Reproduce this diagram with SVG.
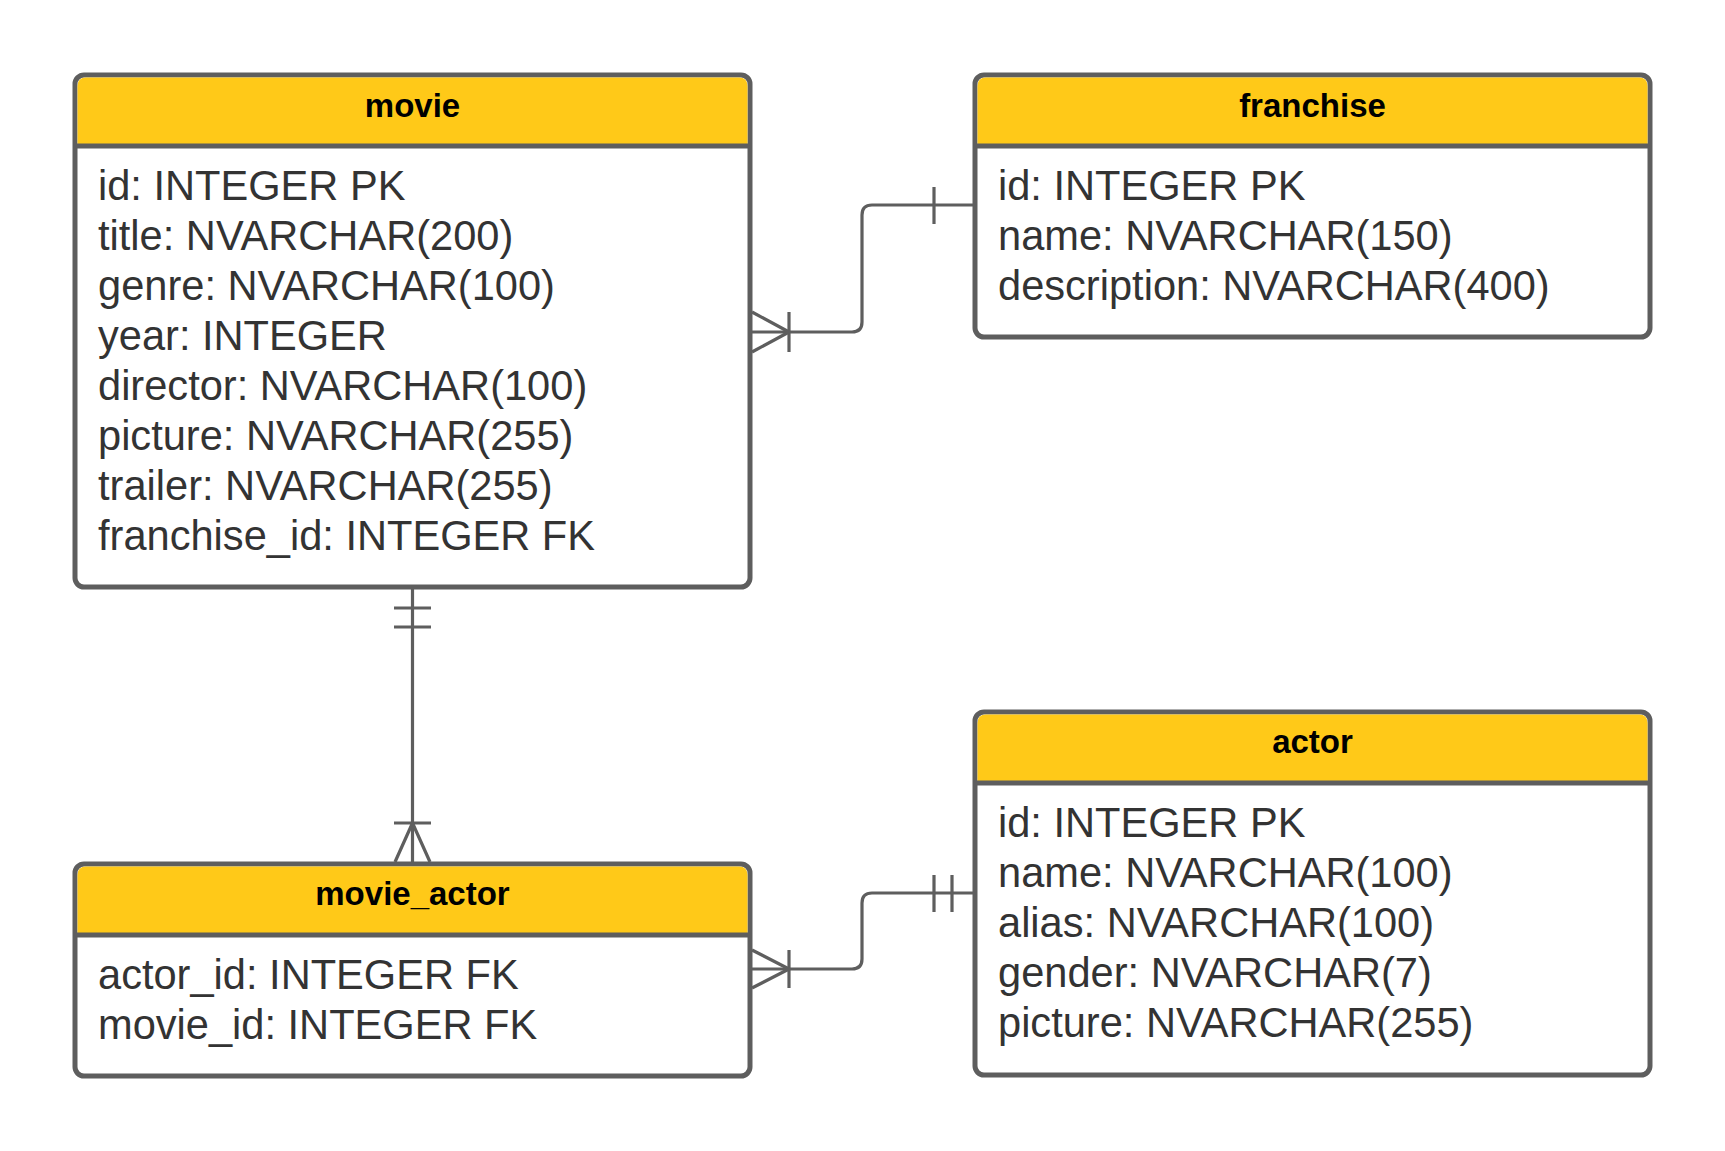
<svg xmlns="http://www.w3.org/2000/svg" width="1725" height="1151" viewBox="0 0 1725 1151">
<style>
.box{fill:#ffffff;stroke:#5e5e5e;stroke-width:5}
.hdr{fill:#ffc918}
.sep{stroke:#5e5e5e;stroke-width:5}
.title{font-family:"Liberation Sans",Arial,sans-serif;font-weight:bold;font-size:33px;fill:#000000;text-anchor:middle}
.row{font-family:"Liberation Sans",Arial,sans-serif;font-size:41.6px;fill:#333333}
.conn{fill:none;stroke:#5e5e5e;stroke-width:3.2;stroke-linecap:butt;stroke-linejoin:round}
</style>
<rect width="1725" height="1151" fill="#ffffff"/>
<g id="connectors" class="conn">
  <path d="M752 332 H852 Q862 332 862 322 V215 Q862 205 872 205 H973"/>
  <path d="M752 312 L789 332 L752 352"/>
  <path d="M789 312 V352"/>
  <path d="M934 187 V224"/>
  <path d="M412.5 589 V862"/>
  <path d="M394 608 H431 M394 627 H431"/>
  <path d="M394 823 H431"/>
  <path d="M395 862 L412.5 823 L430 862"/>
  <path d="M752 969 H852 Q862 969 862 959 V903 Q862 893 872 893 H973"/>
  <path d="M752 950 L789 969 L752 988"/>
  <path d="M789 950 V988"/>
  <path d="M934 875 V912 M952 875 V912"/>
</g>
<g id="movie">
  <rect class="box" x="75" y="75" width="675" height="512" rx="9"/>
  <path class="hdr" d="M77.5 146 V86 Q77.5 77.5 86 77.5 H739 Q747.5 77.5 747.5 86 V146 Z"/>
  <line class="sep" x1="75" y1="146" x2="750" y2="146"/>
  <text class="title" x="412.5" y="117">movie</text>
  <text class="row" x="98" y="200">id: INTEGER PK</text>
  <text class="row" x="98" y="250">title: NVARCHAR(200)</text>
  <text class="row" x="98" y="300">genre: NVARCHAR(100)</text>
  <text class="row" x="98" y="350">year: INTEGER</text>
  <text class="row" x="98" y="400">director: NVARCHAR(100)</text>
  <text class="row" x="98" y="450">picture: NVARCHAR(255)</text>
  <text class="row" x="98" y="500">trailer: NVARCHAR(255)</text>
  <text class="row" x="98" y="550">franchise_id: INTEGER FK</text>
</g>
<g id="franchise">
  <rect class="box" x="975" y="75" width="675" height="262" rx="9"/>
  <path class="hdr" d="M977.5 146 V86 Q977.5 77.5 986 77.5 H1639 Q1647.5 77.5 1647.5 86 V146 Z"/>
  <line class="sep" x1="975" y1="146" x2="1650" y2="146"/>
  <text class="title" x="1312.5" y="117">franchise</text>
  <text class="row" x="998" y="200">id: INTEGER PK</text>
  <text class="row" x="998" y="250">name: NVARCHAR(150)</text>
  <text class="row" x="998" y="300">description: NVARCHAR(400)</text>
</g>
<g id="movie_actor">
  <rect class="box" x="75" y="864" width="675" height="212" rx="9"/>
  <path class="hdr" d="M77.5 935 V875 Q77.5 866.5 86 866.5 H739 Q747.5 866.5 747.5 875 V935 Z"/>
  <line class="sep" x1="75" y1="935" x2="750" y2="935"/>
  <text class="title" x="412.5" y="905">movie_actor</text>
  <text class="row" x="98" y="989">actor_id: INTEGER FK</text>
  <text class="row" x="98" y="1039">movie_id: INTEGER FK</text>
</g>
<g id="actor">
  <rect class="box" x="975" y="712" width="675" height="363" rx="9"/>
  <path class="hdr" d="M977.5 783 V723 Q977.5 714.5 986 714.5 H1639 Q1647.5 714.5 1647.5 723 V783 Z"/>
  <line class="sep" x1="975" y1="783" x2="1650" y2="783"/>
  <text class="title" x="1312.5" y="753">actor</text>
  <text class="row" x="998" y="837">id: INTEGER PK</text>
  <text class="row" x="998" y="887">name: NVARCHAR(100)</text>
  <text class="row" x="998" y="937">alias: NVARCHAR(100)</text>
  <text class="row" x="998" y="987">gender: NVARCHAR(7)</text>
  <text class="row" x="998" y="1037">picture: NVARCHAR(255)</text>
</g>
</svg>
